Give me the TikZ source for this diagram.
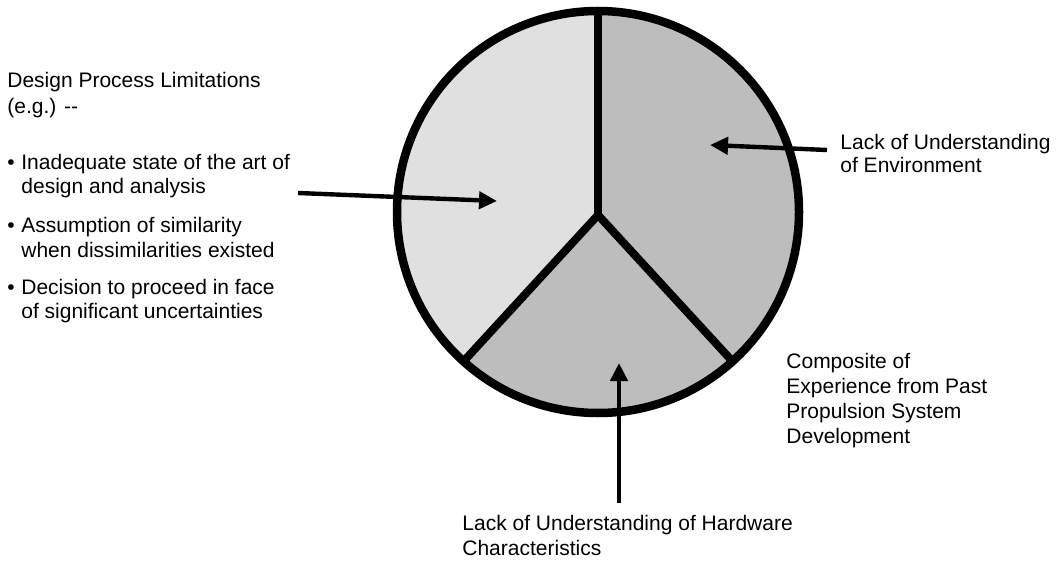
\documentclass[tikz,border=0pt]{standalone}
\usepackage{fontspec}
\setmainfont{Liberation Sans}
\usetikzlibrary{arrows.meta}
\definecolor{lightsec}{RGB}{224,224,224}
\definecolor{darksec}{RGB}{189,189,189}
\begin{document}
\begin{tikzpicture}[x=0.5pt,y=-0.5pt,
  lbl/.style={anchor=base west, inner sep=0pt, font=\fontsize{10.5pt}{12.5pt}\selectfont},
  arr/.style={line width=2.2pt, -{Triangle[length=9pt,width=8.5pt]}},
  spoke/.style={line width=4pt, line join=miter},
  rim/.style={line width=4.25pt}
]
\useasboundingbox (0,0) rectangle (1064,561);
% pie
\coordinate (C) at (598,212);
\coordinate (J) at (598,215);
\coordinate (T) at (598,11);
\coordinate (PL) at (463.5,361.4);
\coordinate (PR) at (732.5,361.4);
\fill[lightsec] (C) circle[radius=100.5pt];
\fill[darksec] (J) -- (PL) arc[start angle=228,end angle=450,radius=100.5pt] -- cycle;
\draw[spoke] (PL) -- (J) -- (PR);
\draw[spoke] (T) -- (J);
\draw[rim] (C) circle[radius=100.5pt];
% left text
\node[lbl] (h1) at (7,88) {Design Process Limitations};
\node[lbl] (h2) at (7,114) {(e.g.) {-}{-}};
\node[lbl] (b1) at (7,170) {\textbullet};
\node[lbl] (i1a) at (21,170) {Inadequate state of the art of};
\node[lbl] (i1b) at (21,194) {design and analysis};
\node[lbl] (b2) at (7,233) {\textbullet};
\node[lbl] (i2a) at (21,233) {Assumption of similarity};
\node[lbl] (i2b) at (21,257) {when dissimilarities existed};
\node[lbl] (b3) at (7,294) {\textbullet};
\node[lbl] (i3a) at (21,294) {Decision to proceed in face};
\node[lbl] (i3b) at (21,318) {of significant uncertainties};
% right text
\node[lbl] (e1) at (840,150) {Lack of Understanding};
\node[lbl] (e2) at (840,173) {of Environment};
\node[lbl] (c1) at (786,368) {Composite of};
\node[lbl] (c2) at (786,393) {Experience from Past};
\node[lbl] (c3) at (786,418) {Propulsion System};
\node[lbl] (c4) at (786,443) {Development};
% bottom text
\node[lbl] (hw1) at (462,530) {Lack of Understanding of Hardware};
\node[lbl] (hw2) at (462,555) {Characteristics};
% arrows
\coordinate (LA1) at (298,193);
\coordinate (LA2) at (497,201);
\coordinate (RA1) at (827,150);
\coordinate (RA2) at (710,145);
\coordinate (BA1) at (619,503);
\coordinate (BA2) at (619,363);
\draw[arr] (LA1) -- (LA2);
\draw[arr] (RA1) -- (RA2);
\draw[arr] (BA1) -- (BA2);
\end{tikzpicture}
\end{document}
